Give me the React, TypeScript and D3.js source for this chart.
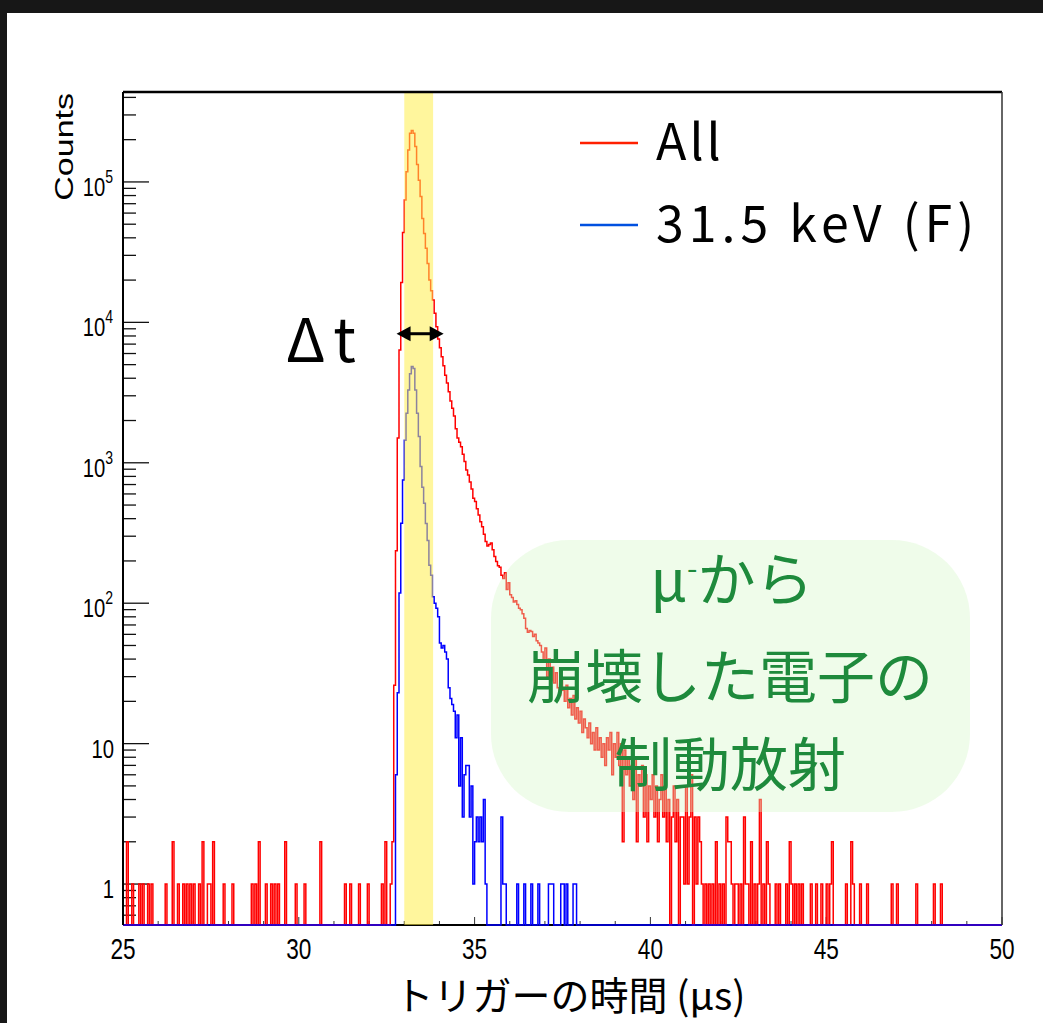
import React from "react";
import * as d3 from "d3";

// histogram binning (µs)
const BIN = 0.05;
const T_MIN = 25;
const T_MAX = 50;
const Y_MIN = 0.511;
const Y_MAX = 4.37e5;

// "All" (red): contiguous part starting at redStart
const redStart = 32.6;
const redCounts = [
  1, 2, 26, 236, 1500, 6350, 19200, 43700, 74400, 118000,
  169000, 222000, 232000, 222000, 179000, 133000, 103000, 78600, 55000, 43000,
  33700, 26300, 20000, 16800, 14400, 11600, 9300, 7600, 6600, 5700,
  4900, 4200, 3700, 3200, 2750, 2450, 2150, 1750, 1500, 1400,
  1300, 1150, 1020, 890, 820, 730, 650, 560, 530, 470,
  425, 380, 350, 310, 275, 255, 262, 268, 240, 215,
  198, 185, 180, 158, 150, 165, 125, 140, 115, 110,
  102, 104, 98, 92, 90, 84, 78, 66, 62, 64,
  63, 58, 60, 54, 52, 50, 45, 38, 48, 30,
  40, 28, 35, 27, 32, 25, 22, 28, 24, 20,
  26, 18, 21, 16, 22, 15, 18, 14, 17, 12,
  15, 13, 11, 14, 10, 12, 9, 13, 9, 11,
  8, 10, 7, 11, 9, 12, 6, 10, 8, 12,
  7, 10, 2, 9, 6, 8, 5, 7, 4, 8,
  2, 6, 5, 7, 3, 6, 2, 5, 4, 6,
  3, 5, 2, 4, 6, 3, 5, 2, 4, 0,
  3, 5, 2, 4, 0, 3, 3, 1, 5, 1,
  3, 6, 0, 3, 1, 3, 2, 1, 0,
];
// isolated red bins [time, count]
const redSparse: [number, number][] = [
  [25.1, 2], [25.25, 1], [25.45, 1], [25.55, 1], [25.7, 1], [25.8, 1],
  [26.2, 1], [26.4, 2], [26.55, 1], [26.7, 1], [26.8, 1], [26.9, 1],
  [27.0, 1], [27.15, 1], [27.25, 2], [27.4, 1], [27.45, 1], [27.55, 2],
  [27.85, 1], [28.1, 1], [28.65, 1], [28.75, 1], [28.85, 2], [29.05, 1],
  [29.2, 1], [29.3, 1], [29.4, 1], [29.6, 2], [29.9, 1], [30.15, 1],
  [30.6, 2], [31.3, 1], [31.45, 1], [31.7, 1], [31.95, 1], [32.35, 1], [32.45, 2],
  [41.55, 1], [41.65, 1], [41.75, 1], [41.85, 2], [41.95, 1], [42.05, 1],
  [42.15, 3], [42.2, 2], [42.25, 2], [42.3, 1], [42.4, 1], [42.45, 1],
  [42.55, 1], [42.65, 3], [42.7, 1], [42.75, 1], [42.85, 2], [42.95, 1],
  [43.05, 1], [43.1, 4], [43.2, 1], [43.3, 2], [43.35, 1], [43.55, 1],
  [43.65, 1], [43.85, 1], [43.95, 2], [44.0, 1], [44.1, 1], [44.2, 1],
  [44.3, 1], [44.55, 1], [44.7, 1], [44.85, 1], [45.0, 1], [45.1, 1],
  [45.15, 2], [45.55, 1], [45.7, 2], [45.75, 1], [45.95, 1], [46.15, 1],
  [46.85, 1], [47.0, 1], [47.55, 1], [48.05, 1], [48.25, 1],
];

// 31.5 keV (F) (blue)
const blueStart = 32.75;
const blueCounts = [
  6, 23, 118, 371, 753, 1450, 2250, 3300, 4300, 4840,
  4700, 3300, 2250, 1540, 940, 670, 515, 370, 280, 186,
  158, 111, 100, 92, 80, 52, 48, 50, 45, 40,
  25, 21, 19, 17, 11, 16, 5, 11, 3, 6,
  7, 7, 3, 5, 1, 2, 3, 2, 3, 2, 4, 1,
];
const blueSparse: [number, number][] = [
  [35.75, 3], [35.8, 1], [35.85, 1], [36.2, 1], [36.4, 1], [36.6, 1],
  [36.8, 1], [37.1, 1], [37.15, 1], [37.2, 1], [37.45, 1], [37.5, 1],
  [37.6, 1], [37.8, 1], [37.85, 1],
];

const xMajor = [25, 30, 35, 40, 45, 50];
const yDecades = [1, 10, 100, 1000, 10000, 100000];
const gateRange = [33.0, 33.82];
const deltaT = [32.78, 34.12, 8300];

const fillBins = (start: number, counts: number[], sparse: [number, number][]) => {
  const n = Math.round((T_MAX - T_MIN) / BIN);
  const arr = new Array(n).fill(0);
  const i0 = Math.round((start - T_MIN) / BIN);
  counts.forEach((c, k) => (arr[i0 + k] = c));
  sparse.forEach(([t, c]) => (arr[Math.round((t - T_MIN) / BIN)] = c));
  return arr;
};

const AXIS_FONT = "'Liberation Sans', Arial, sans-serif";
const JP_FONT = "'Noto Sans CJK JP', 'Noto Sans', sans-serif";

export default function App() {
  const W = 1043;
  const H = 1023;
  const x = d3.scaleLinear().domain([T_MIN, T_MAX]).range([123, 1002]);
  const y = d3.scaleLog().domain([Y_MIN, Y_MAX]).range([925, 92]).clamp(true);
  const [left, right] = x.range();
  const [bottom, top] = y.range();

  const histPath = (bins: number[]) => {
    const pts: [number, number][] = [];
    bins.forEach((c, i) => {
      const t0 = T_MIN + i * BIN;
      const yy = c > 0 ? y(c) : bottom;
      pts.push([x(t0), yy], [x(t0 + BIN), yy]);
    });
    return d3.line()(pts) || "";
  };

  const redPath = histPath(fillBins(redStart, redCounts, redSparse));
  const bluePath = histPath(fillBins(blueStart, blueCounts, blueSparse));

  const yTicks: { v: number; major: boolean }[] = [];
  for (let e = -1; e <= 5; e++) {
    for (let m = 1; m <= 9; m++) {
      const v = m * Math.pow(10, e);
      if (v >= Y_MIN && v <= Y_MAX) yTicks.push({ v, major: m === 1 });
    }
  }
  const xTicks = d3.range(T_MIN, T_MAX + 0.5, 1);

  const ay = y(deltaT[2]);
  const ax0 = x(deltaT[0]);
  const ax1 = x(deltaT[1]);

  return (
    <svg
      width={W}
      height={H}
      style={{ position: "absolute", left: 0, top: 0 }}
      xmlns="http://www.w3.org/2000/svg"
    >
      <rect x={0} y={0} width={W} height={H} fill="#171717" />
      <rect x={7} y={13} width={W - 7} height={H - 13} fill="#ffffff" />

      <defs>
        <clipPath id="plot">
          <rect x={left} y={top} width={right - left} height={bottom - top + 2} />
        </clipPath>
      </defs>

      {/* axes */}
      {yTicks.map((t, i) => (
        <line
          key={"yt" + i}
          x1={left}
          x2={left + (t.major ? 26 : 13)}
          y1={y(t.v)}
          y2={y(t.v)}
          stroke="#111"
          strokeWidth={1.3}
        />
      ))}
      {xTicks.map((t) => (
        <line
          key={"xt" + t}
          x1={x(t)}
          x2={x(t)}
          y1={bottom}
          y2={bottom - (xMajor.includes(t) ? 8 : 4)}
          stroke="#333"
          strokeWidth={1}
        />
      ))}
      <line x1={left} x2={right} y1={bottom} y2={bottom} stroke="#000" strokeWidth={2} />

      {/* histograms */}
      <g clipPath="url(#plot)">
        <path d={redPath} fill="none" stroke="#ff0000" strokeWidth={1.5} />
        <path d={bluePath} fill="none" stroke="#0000ff" strokeWidth={1.5} />
        <rect
          x={x(gateRange[0])}
          y={top + 1}
          width={x(gateRange[1]) - x(gateRange[0])}
          height={bottom - top - 1}
          fill="#ffef4d"
          opacity={0.55}
        />
      </g>

      {/* frame */}
      <line x1={left} x2={right} y1={top} y2={top} stroke="#000" strokeWidth={2.5} />
      <line x1={left} x2={left} y1={top} y2={bottom} stroke="#000" strokeWidth={2} />
      <line x1={right} x2={right} y1={top} y2={bottom} stroke="#333" strokeWidth={1.5} />

      {/* y labels */}
      {yDecades.map((v) => {
        const e = Math.round(Math.log10(v));
        const ty = y(v);
        return (
          <g key={"yl" + v} transform={`translate(${e >= 2 ? 113 : 114},${ty + 14}) scale(0.78,1)`}>
            <text textAnchor="end" fontFamily={AXIS_FONT} fontSize={26} fill="#000">
              {e >= 2 ? (
                <>
                  10
                  <tspan fontSize={18} dy={-13}>
                    {e}
                  </tspan>
                </>
              ) : (
                String(v)
              )}
            </text>
          </g>
        );
      })}
      {/* x labels */}
      {xMajor.map((t) => (
        <g key={"xl" + t} transform={`translate(${x(t)},959) scale(0.78,1)`}>
          <text textAnchor="middle" fontFamily={AXIS_FONT} fontSize={29} fill="#000">
            {t}
          </text>
        </g>
      ))}

      {/* axis titles */}
      <g transform="translate(73,93) rotate(-90) scale(1,0.75)">
        <text textAnchor="end" fontFamily={AXIS_FONT} fontSize={34} fill="#000">
          Counts
        </text>
      </g>
      <text x={570} y={1010} textAnchor="middle" fontFamily={JP_FONT} fontSize={39} fill="#000">
        トリガーの時間 (μs)
      </text>

      {/* Δt arrow */}
      <line x1={ax0 + 10} x2={ax1 - 10} y1={ay} y2={ay} stroke="#000" strokeWidth={3} />
      <path d={`M${ax0},${ay} L${ax0 + 14},${ay - 7.5} L${ax0 + 14},${ay + 7.5} Z`} fill="#000" />
      <path d={`M${ax1},${ay} L${ax1 - 14},${ay - 7.5} L${ax1 - 14},${ay + 7.5} Z`} fill="#000" />
      <text x={286} y={362} fontFamily={JP_FONT} fontSize={60} fill="#000" letterSpacing={8}>
        Δt
      </text>

      {/* legend */}
      <line x1={580} x2={638} y1={143} y2={143} stroke="#ff2000" strokeWidth={2.5} />
      <text x={656} y={160} fontFamily={JP_FONT} fontSize={50} fill="#000" letterSpacing={3}>
        All
      </text>
      <line x1={580} x2={638} y1={225} y2={225} stroke="#0050e0" strokeWidth={2.5} />
      <text x={656} y={242} fontFamily={JP_FONT} fontSize={50} fill="#000" letterSpacing={5}>
        31.5 keV (F)
      </text>

      {/* annotation box */}
      <rect x={491} y={540} width={479} height={272} rx={78} ry={78} fill="#d6f8c8" opacity={0.38} />
      <g fontFamily={JP_FONT} fontSize={58} fill="#1e8a3c" textAnchor="middle">
        <text x={732} y={601}>
          μ<tspan fontSize={30} dy={-22}>-</tspan>
          <tspan dy={22}>から</tspan>
        </text>
        <text x={730} y={698}>崩壊した電子の</text>
        <text x={730} y={786}>制動放射</text>
      </g>
    </svg>
  );
}
